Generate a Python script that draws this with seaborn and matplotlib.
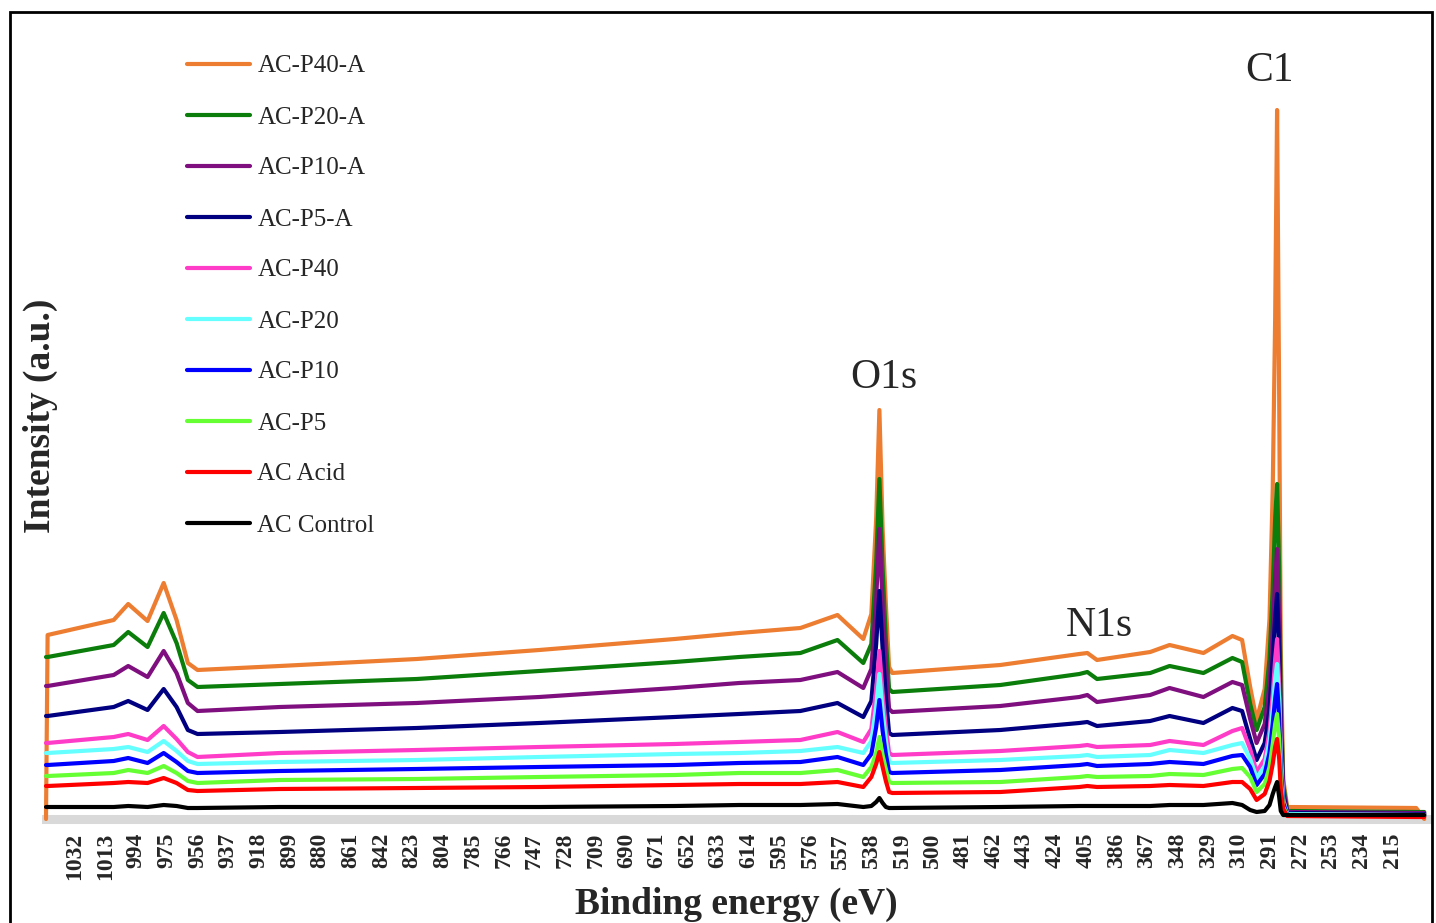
import numpy as np
import pandas as pd
import matplotlib.pyplot as plt
import seaborn as sns
from matplotlib.patches import Rectangle

# binding energy (eV) at the points
energy = [1050, 1049, 1008, 999, 987, 977, 969, 962, 956, 905,
          820, 744, 660, 620, 582, 559, 543, 538, 535, 533,
          531, 529, 527, 525, 458, 409, 404, 398, 365, 353,
          332, 314, 308, 303, 299, 294, 291, 289, 287.5, 286.3,
          285, 284, 282.5, 280, 200, 195]

ac_p40_a = [0, 184, 199, 215, 198, 236, 199, 156, 149, 153,
            160, 169, 180, 186, 191, 204, 180, 205, 300, 409,
            290, 215, 152, 146, 154, 165, 166, 159, 167, 174,
            166, 183, 179, 132, 99, 130, 200, 330, 500, 709,
            420, 170, 40, 12, 11, 0]
ac_p20_a = [162, 162, 174, 187, 172, 206, 176, 139, 132, 135,
            140, 148, 157, 162, 166, 179, 156, 175, 255, 340,
            250, 180, 130, 127, 134, 145, 147, 140, 146, 153,
            146, 161, 157, 115, 89, 112, 160, 230, 300, 335,
            250, 120, 35, 8, 7, 7]
ac_p10_a = [133, 133, 144, 153, 142, 168, 146, 116, 108, 112,
            116, 122, 131, 136, 139, 147, 131, 150, 220, 290,
            215, 155, 110, 107, 113, 122, 124, 117, 124, 131,
            122, 137, 134, 100, 76, 95, 135, 190, 240, 270,
            200, 100, 30, 7, 6, 6]
ac_p5_a = [103, 103, 112, 118, 109, 130, 112, 89, 85, 87,
           91, 96, 102, 105, 108, 116, 102, 118, 175, 228,
           170, 122, 86, 84, 89, 96, 97, 93, 98, 103,
           96, 111, 108, 80, 59, 76, 110, 160, 200, 225,
           170, 85, 25, 6, 5, 5]
ac_p40 = [76, 76, 82, 85, 79, 93, 80, 67, 62, 66,
          69, 72, 75, 77, 79, 87, 77, 90, 130, 168,
          125, 92, 66, 64, 68, 73, 74, 72, 74, 78,
          74, 88, 91, 70, 47, 60, 88, 125, 160, 180,
          135, 70, 20, 5, 4, 4]
ac_p20 = [66, 66, 70, 72, 67, 78, 68, 58, 55, 57,
          59, 62, 65, 66, 68, 72, 66, 78, 112, 145,
          108, 78, 57, 56, 59, 63, 64, 62, 64, 69,
          66, 74, 76, 60, 41, 53, 78, 110, 140, 155,
          120, 60, 18, 5, 4, 4]
ac_p10 = [54, 54, 58, 61, 56, 66, 57, 48, 46, 48,
          50, 52, 54, 56, 57, 62, 54, 65, 92, 119,
          88, 65, 47, 46, 49, 54, 55, 53, 55, 57,
          55, 63, 64, 52, 34, 45, 66, 95, 120, 135,
          100, 50, 16, 4, 3, 3]
ac_p5 = [43, 43, 46, 49, 46, 53, 46, 38, 36, 39,
         40, 42, 44, 46, 46, 49, 42, 52, 66, 82,
         64, 50, 37, 36, 37, 42, 43, 42, 43, 45,
         44, 50, 51, 42, 27, 35, 52, 75, 95, 105,
         80, 40, 12, 4, 3, 3]
ac_acid = [33, 33, 36, 37, 36, 41, 36, 29, 28, 30,
           31, 32, 34, 35, 35, 37, 32, 42, 55, 67,
           52, 38, 27, 26, 27, 32, 33, 32, 33, 34,
           33, 37, 37, 30, 19, 25, 38, 55, 72, 80,
           60, 30, 10, 3, 2, 2]
ac_control = [12, 12, 12, 13, 12, 14, 13, 11, 11, 12,
              12, 12, 13, 14, 14, 15, 12, 13, 17, 21,
              16, 12, 11, 11, 12, 13, 13, 13, 13, 14,
              14, 16, 14, 9, 7, 8, 14, 25, 32, 37,
              22, 8, 4, 4, 4, 4]

names = ['AC-P40-A', 'AC-P20-A', 'AC-P10-A', 'AC-P5-A', 'AC-P40',
         'AC-P20', 'AC-P10', 'AC-P5', 'AC Acid', 'AC Control']
colors = ['#ED7D31', '#0A7D0A', '#7F0F7F', '#000080', '#FF3CC8',
          '#66FFFF', '#0000FF', '#66FF33', '#FF0000', '#000000']
tick_values = [1032, 1013, 994, 975, 956, 937, 918, 899, 880, 861, 842,
               823, 804, 785, 766, 747, 728, 709, 690, 671, 652, 633,
               614, 595, 576, 557, 538, 519, 500, 481, 462, 443, 424,
               405, 386, 367, 348, 329, 310, 291, 272, 253, 234, 215]

series = [ac_p40_a, ac_p20_a, ac_p10_a, ac_p5_a, ac_p40,
          ac_p20, ac_p10, ac_p5, ac_acid, ac_control]
rows = []
for name, vals in zip(names, series):
    for e, v in zip(energy, vals):
        rows.append({'energy': e, 'intensity': v, 'sample': name})
df = pd.DataFrame(rows)

sns.set_theme(style='white')
plt.rcParams['font.family'] = ['Liberation Serif', 'DejaVu Serif']

fig = plt.figure(figsize=(14.36, 9.23), dpi=100)
ax = fig.add_axes([46 / 1436, 1 - 819 / 923, 1381 / 1436, 720 / 923])

sns.lineplot(data=df, x='energy', y='intensity', hue='sample',
             hue_order=names, palette=colors, linewidth=3,
             errorbar=None, ax=ax, zorder=3, clip_on=False)

ax.set_xlim(1050, 193.3)
ax.set_ylim(0, 720)
ax.set_xticks(tick_values)
ax.set_xticklabels([str(t) for t in tick_values], rotation=90,
                   fontweight='bold', fontsize=17)
ax.tick_params(axis='x', length=0, pad=10)
ax.set_yticks([])
for s in ['top', 'right', 'left']:
    ax.spines[s].set_visible(False)
ax.spines['bottom'].set_color('#D9D9D9')
ax.spines['bottom'].set_linewidth(6.5)

ax.set_xlabel('Binding energy (eV)', fontsize=27, fontweight='bold', labelpad=5)
ax.set_ylabel('Intensity (a.u.)', fontsize=27, fontweight='bold', va='center')
ax.yaxis.set_label_coords(-0.0043, 0.56)

ax.text(290.7, 748, 'C1', fontsize=30, ha='center', va='center')
ax.text(530.1, 441, 'O1s', fontsize=30, ha='center', va='center')
ax.text(396.8, 193, 'N1s', fontsize=30, ha='center', va='center')

handles, labels = ax.get_legend_handles_labels()
ax.get_legend().remove()
leg = ax.legend(handles, labels, loc='upper left',
                bbox_to_anchor=(187 / 1436, 1 - 55 / 923),
                bbox_transform=fig.transFigure, frameon=False,
                fontsize=18, handlelength=2.53, handletextpad=0.28,
                labelspacing=1.14, borderpad=0, borderaxespad=0)
for h in leg.get_lines():
    h.set_linewidth(3)

fig.add_artist(Rectangle((9.7 / 1436, -0.02), (1432 - 9.7) / 1436, 1 - 12 / 923 + 0.02,
                         transform=fig.transFigure, fill=False,
                         edgecolor='black', linewidth=2))

fig.savefig('out.png', dpi=100)
